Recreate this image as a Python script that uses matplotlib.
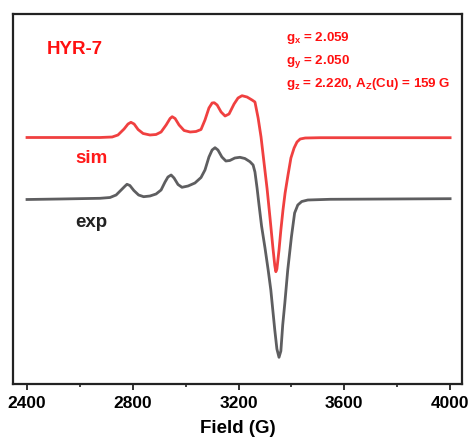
import numpy as np
import matplotlib
matplotlib.use("Agg")
import matplotlib.pyplot as plt

plt.rcParams['font.family'] = ['Liberation Sans', 'DejaVu Sans']
plt.rcParams['font.weight'] = 'bold'
plt.rcParams['mathtext.fontset'] = 'custom'
plt.rcParams['mathtext.it'] = 'Liberation Sans:bold'
plt.rcParams['mathtext.rm'] = 'Liberation Sans:bold'
plt.rcParams['mathtext.bf'] = 'Liberation Sans:bold'

# field (G) and signal (arb. units)
sim_field = [2400, 2676, 2722, 2744, 2767, 2782, 2793, 2805, 2820, 2839, 2865, 2888,
             2907, 2926, 2941, 2949, 2960, 2975, 2994, 3017, 3039, 3058, 3073, 3088,
             3100, 3108, 3119, 3134, 3149, 3164, 3183, 3198, 3213, 3232, 3251, 3262,
             3274, 3285, 3296, 3308, 3319, 3330, 3337, 3341, 3345, 3353, 3360, 3368,
             3376, 3387, 3398, 3410, 3421, 3433, 3452, 3508, 4000]
sim_int = [0, 0, 0.5, 2.5, 8.5, 13.5, 15.2, 13.5, 8, 4, 2.5, 3,
           5.5, 12.5, 19, 20.8, 19, 12.5, 7, 5.5, 6, 8, 17.5, 29.5,
           34.5, 34.8, 32.5, 25.5, 21.5, 23.5, 33.5, 39.5, 41.8, 40.5, 37.5, 35.5,
           19.5, 0.5, -24.5, -51.5, -80.5, -110.5, -128, -134.2, -131.5, -112.5, -92.5, -72.5,
           -55.5, -37.5, -20.5, -10.5, -4.5, -1.5, -0.5, -0.2, -0.2]

exp_field = [2400, 2525, 2676, 2714, 2737, 2756, 2771, 2778, 2789, 2804, 2822, 2841,
             2865, 2888, 2907, 2922, 2933, 2945, 2956, 2971, 2986, 3009, 3035, 3058,
             3073, 3088, 3100, 3111, 3122, 3137, 3152, 3167, 3186, 3205, 3224, 3243,
             3255, 3262, 3270, 3277, 3287, 3300, 3312, 3322, 3337, 3345, 3353, 3360,
             3367, 3375, 3386, 3400, 3412, 3424, 3439, 3462, 3546, 4000]
exp_int = [-0.5, 0, 0.7, 1.5, 4, 9, 13, 14.7, 13.5, 8.5, 4, 2.3,
           3, 5, 9, 17, 22, 24, 21, 14.5, 11.7, 13, 16, 21.5,
           29, 42, 49, 51.3, 49, 42, 38, 38.5, 41, 41.7, 40.5, 37.3,
           34, 27, 11, -5, -27, -49, -71, -91, -131, -150, -158.3, -152,
           -126, -104, -71, -37.7, -14, -6, -2.5, -1, -0.3, 0.3]

sim_offset = 246.5
exp_offset = 185

gvals = [r'$g_x$ = 2.059', r'$g_y$ = 2.050', r'$g_z$ = 2.220, A$_\mathrm{Z}$(Cu) = 159 G']
xticks = [2400, 2800, 3200, 3600, 4000]

fig = plt.figure(figsize=(4.71, 4.42), dpi=100)
ax = fig.add_axes([13/471, 58/442, 449/471, 370/442])

ax.plot(sim_field, np.array(sim_int) + sim_offset, color='#f04040', lw=2.0,
        solid_joinstyle='round')
ax.plot(exp_field, np.array(exp_int) + exp_offset, color='#5e5e60', lw=2.0,
        solid_joinstyle='round')

ax.set_xlim(2347, 4045)
ax.set_ylim(0, 370)
ax.set_yticks([])
ax.set_xticks(xticks)
ax.set_xticks(np.arange(2600, 4000, 400), minor=True)
ax.tick_params(axis='x', which='major', direction='out', length=4, width=1.3,
               labelsize=12.5, pad=5, color='#222222')
ax.tick_params(axis='x', which='minor', direction='out', length=2.5, width=1.2,
               color='#222222')
for lab in ax.get_xticklabels():
    lab.set_fontweight('bold')
for s in ax.spines.values():
    s.set_linewidth(1.6)
    s.set_color('#222222')

ax.set_xlabel('Field (G)', fontsize=13.5, fontweight='bold', labelpad=6)

ax.text(2476, 330, 'HYR-7', color='#ff1010', fontsize=13.5, fontweight='bold',
        va='baseline')
ax.text(2583, 220.7, 'sim', color='#ff1a1a', fontsize=13.5, fontweight='bold',
        va='baseline')
ax.text(2583, 157.3, 'exp', color='#222222', fontsize=13.5, fontweight='bold',
        va='baseline')
for i, t in enumerate(gvals):
    ax.text(3378, 343.3 - 23 * i, t, color='#ff1010', fontsize=9.6, fontweight='bold',
            va='baseline')

fig.savefig('out.png', dpi=100)
